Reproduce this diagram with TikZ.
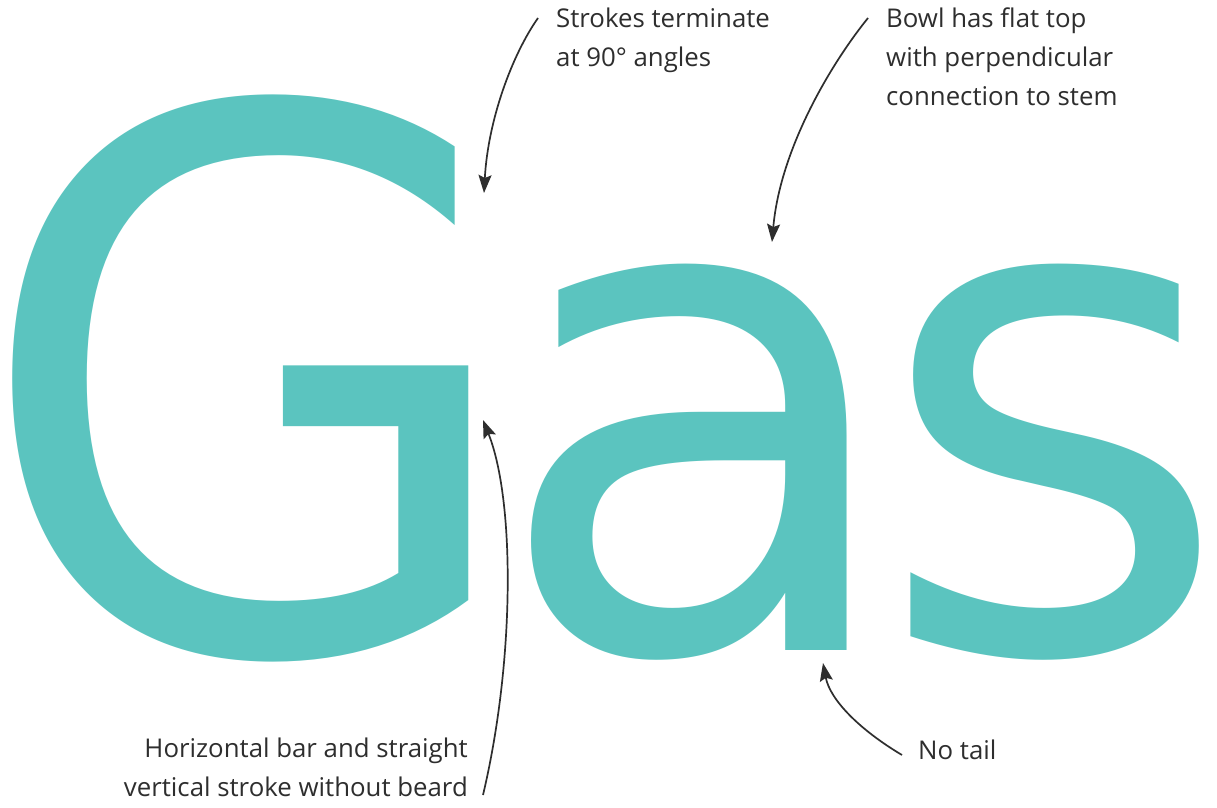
\documentclass[tikz,border=0pt]{standalone}
\usepackage{fontspec}
\usepackage{graphicx}
\setmainfont{Open Sans}
\newfontfamily\glyphfont{DejaVu Sans}
\usetikzlibrary{arrows.meta}
\definecolor{teal}{HTML}{5BC4BF}
\definecolor{ink}{HTML}{2E2E2E}
\tikzset{
  glyph/.style={inner sep=0pt, outer sep=0pt, text=teal, anchor=base west},
  note/.style={inner sep=0pt, text=ink, font=\fontsize{25.8}{39}\selectfont, align=left},
  pointer/.style={draw=ink, line width=1.7pt, -{Stealth[length=18pt,width=13pt,inset=3pt]}}
}
\begin{document}
\begin{tikzpicture}[x=1pt,y=-1pt]
\useasboundingbox[fill=white] (0,0) rectangle (1217,807);
% big letters
\node[glyph] (G) at (12,651) {\scalebox{0.955}[1]{\glyphfont\fontsize{750}{750}\selectfont\kern-41.3pt G\kern-61pt}};
\node[glyph] (a) at (531,650) {\scalebox{0.99}[1]{\glyphfont\fontsize{690}{690}\selectfont\kern-41.4pt a\kern-62.7pt}};
\node[glyph] (s) at (911,650) {\scalebox{1}[1]{\glyphfont\fontsize{690}{690}\selectfont\kern-37.4pt s\kern-33.7pt}};
% notes
\node[note, anchor=north west] (n1) at (556,8) {Strokes terminate\\at 90° angles};
\node[note, anchor=north west] (n2) at (886,8) {Bowl has flat top\\with perpendicular\\connection to stem};
\node[note, anchor=north east, align=right] (n3) at (468,738) {Horizontal bar and straight\\vertical stroke without beard};
\node[note, anchor=west] (n4) at (918,750) {No tail};
% ends
\coordinate (s1) at (538,18);  \coordinate (e1) at (484,193);
\coordinate (s2) at (868,18);  \coordinate (e2) at (772,242);
\coordinate (s3) at (483,795); \coordinate (e3) at (483,420);
\coordinate (s4) at (902,755); \coordinate (e4) at (823,663);
\draw[pointer] (s1) .. controls (512,55) and (488,120) .. (e1);
\draw[pointer] (s2) .. controls (830,65) and (780,150) .. (e2);
\draw[pointer] (s3) .. controls (515,660) and (515,500) .. (e3);
\draw[pointer] (s4) .. controls (860,730) and (830,700) .. (e4);
\end{tikzpicture}
\end{document}
